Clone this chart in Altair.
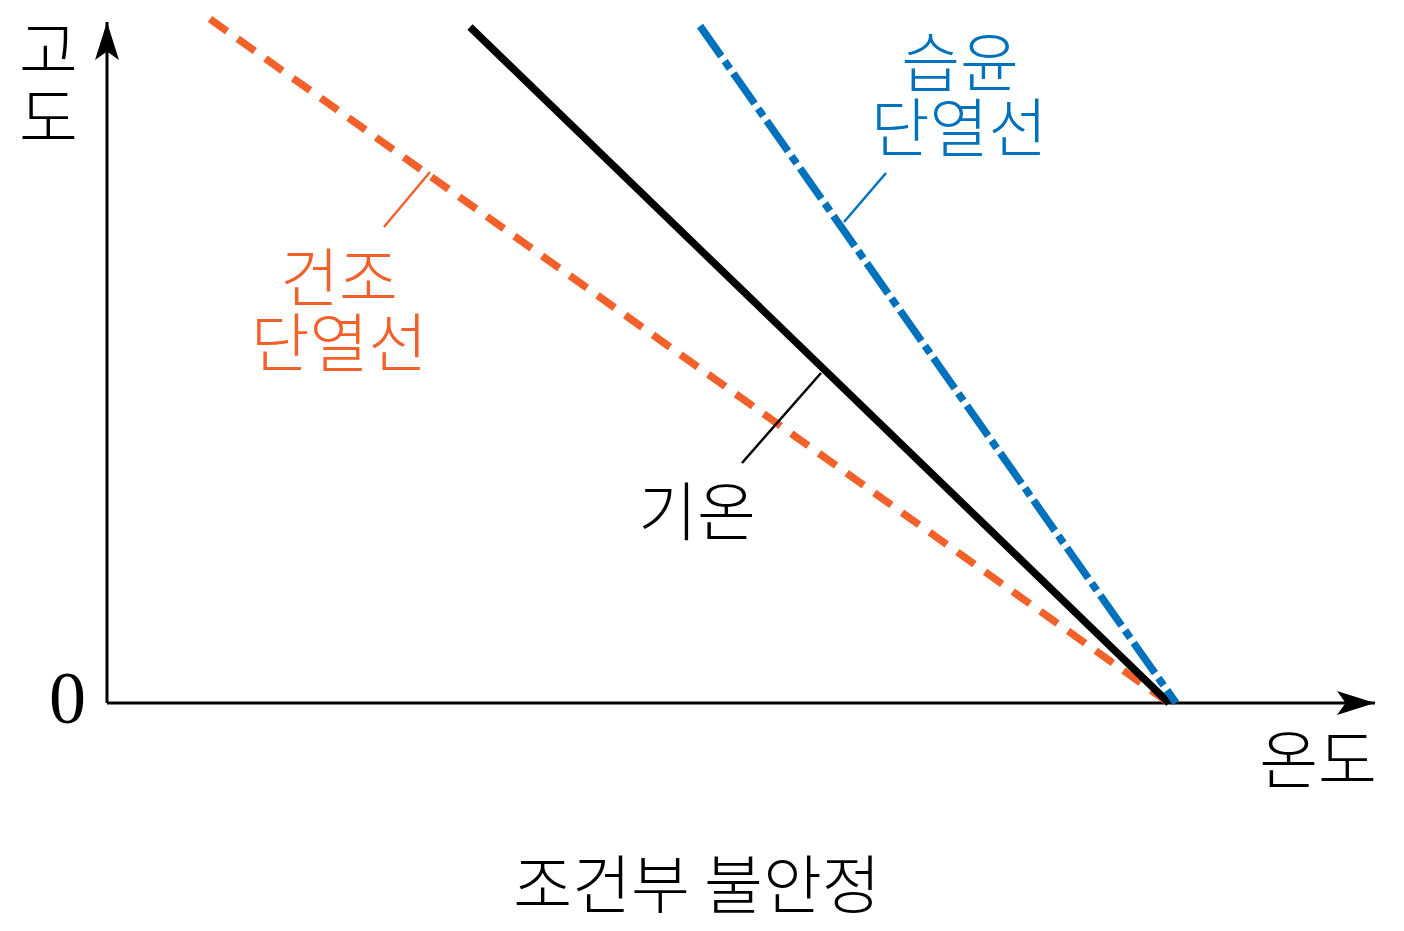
import altair as alt
import pandas as pd

# ---- data (temperature on x, altitude on y, arbitrary units) ----
x_axis_max = 126.8
y_axis_max = 68.1

dry_temp = [10.3, 106.2]
dry_alt = [68.4, 0.0]
env_temp = [36.3, 106.2]
env_alt = [67.6, 0.0]
wet_temp = [59.3, 106.9]
wet_alt = [67.7, 0.0]

# leader lines: start (label side) -> end (curve side)
dry_leader = [27.7, 47.6, 32.3, 53.1]
env_leader = [63.5, 24.0, 71.4, 33.0]
wet_leader = [77.9, 53.0, 73.7, 48.1]

black_texts = ["고", "도", "온도", "기온", "조건부 불안정"]
black_x = [-5.85, -5.85, 121.1, 59.0, 59.0]
black_y = [64.9, 58.1, -6.1, 18.7, -18.6]

dry_texts = ["건조", "단열선"]
dry_tx = [23.2, 23.2]
dry_ty = [42.1, 35.6]

wet_texts = ["습윤", "단열선"]
wet_tx = [85.3, 85.2]
wet_ty = [63.6, 57.1]

zero_text = ["0"]
zero_x = [-3.95]
zero_y = [0.2]

ORANGE = "#F26129"
BLUE = "#0071BC"
FONT = "Noto Sans CJK KR"

xs = alt.Scale(domain=[-9.9, 128.1], nice=False, zero=False)
ys = alt.Scale(domain=[-21.0, 69.5], nice=False, zero=False)


def X(f):
    return alt.X(f, type="quantitative", scale=xs, axis=None)


def Y(f):
    return alt.Y(f, type="quantitative", scale=ys, axis=None)


def line_layer(tx, al, color, dash=None):
    df = pd.DataFrame({"t": tx, "a": al, "o": list(range(len(tx)))})
    kw = dict(color=color, strokeWidth=7.5, strokeCap="butt", clip=False)
    if dash:
        kw["strokeDash"] = dash
    return alt.Chart(df).mark_line(**kw).encode(
        x=X("t"), y=Y("a"), order=alt.Order("o:Q")
    )


def leader(vals, color):
    df = pd.DataFrame({"x": [vals[0]], "y": [vals[1]], "x2": [vals[2]], "y2": [vals[3]]})
    return alt.Chart(df).mark_rule(color=color, strokeWidth=2.5).encode(
        x=X("x"), y=Y("y"), x2="x2", y2="y2"
    )


def texts(t, x, y, color, font=FONT, size=64, weight=300):
    df = pd.DataFrame({"t": t, "x": x, "y": y})
    return alt.Chart(df).mark_text(
        font=font, fontSize=size, fontWeight=weight, color=color,
        align="center", baseline="middle"
    ).encode(x=X("x"), y=Y("y"), text="t:N")


# axes
axes_df = pd.DataFrame({"x": [0.0, 0.0], "y": [0.0, 0.0],
                        "x2": [0.0, x_axis_max], "y2": [y_axis_max, 0.0]})
axes = alt.Chart(axes_df).mark_rule(color="black", strokeWidth=3).encode(
    x=X("x"), y=Y("y"), x2="x2", y2="y2"
)

head_len = 3.8
up_df = pd.DataFrame({"x": [0.0], "y": [y_axis_max - head_len / 2]})
up_arrow = alt.Chart(up_df).mark_point(
    shape="M0,-1 L0.63,1 L0,0.55 L-0.63,1 Z", size=1444, filled=True,
    color="black", opacity=1, strokeWidth=0
).encode(x=X("x"), y=Y("y"))
right_df = pd.DataFrame({"x": [x_axis_max - head_len / 2], "y": [0.0]})
right_arrow = alt.Chart(right_df).mark_point(
    shape="M1,0 L-1,0.63 L-0.55,0 L-1,-0.63 Z", size=1444, filled=True,
    color="black", opacity=1, strokeWidth=0
).encode(x=X("x"), y=Y("y"))

chart = alt.layer(
    axes,
    up_arrow,
    right_arrow,
    line_layer(dry_temp, dry_alt, ORANGE, [21, 13]),
    line_layer(env_temp, env_alt, "black"),
    line_layer(wet_temp, wet_alt, BLUE, [37, 6, 9, 6]),
    leader(dry_leader, ORANGE),
    leader(env_leader, "black"),
    leader(wet_leader, BLUE),
    texts(black_texts, black_x, black_y, "black"),
    texts(dry_texts, dry_tx, dry_ty, ORANGE),
    texts(wet_texts, wet_tx, wet_ty, BLUE),
    texts(zero_text, zero_x, zero_y, "black", font="Liberation Serif", size=74, weight=400),
).properties(
    width=1380, height=905,
    autosize=alt.AutoSizeParams(type="none"),
    padding=0,
).configure_view(stroke=None)

chart.save("out.html", embed_options={"renderer": "svg", "actions": False})
